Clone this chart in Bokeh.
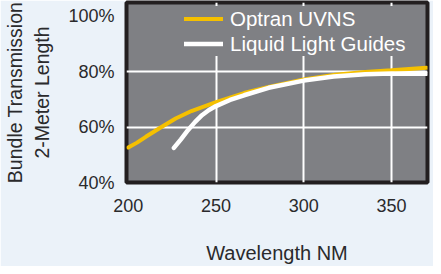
from bokeh.plotting import figure
from bokeh.models import FixedTicker, Range1d, Legend, LegendItem
from bokeh.embed import file_html
from bokeh.resources import INLINE

# Data
wl_optran = [200, 205, 210, 218, 227, 236, 250, 266, 280, 300, 318, 335, 350, 370]
tr_optran = [52.6, 54.4, 56.5, 59.7, 63.1, 65.8, 69.0, 72.3, 74.5, 77.2, 78.9, 79.9, 80.5, 81.4]

wl_llg = [226, 230, 234, 238, 242, 246, 250, 258, 266, 280, 300, 317, 335, 350, 370]
tr_llg = [52.5, 55.6, 58.9, 61.8, 64.3, 66.2, 67.6, 69.8, 71.5, 74.2, 76.8, 78.3, 79.1, 79.4, 79.3]

x_ticks = [200, 250, 300, 350]
y_ticks = [40, 60, 80, 100]
y_labels = {40: "40%", 60: "60%", 80: "80%", 100: "100%"}
x_grid = [250, 300, 350]
y_grid = [60, 80]

series_names = ["Optran UVNS", "Liquid Light Guides"]
series_colors = ["#f5c000", "#ffffff"]

FONT = "Liberation Sans"
TEXT = "#2a2a2c"
PAGE_BG = "#ebf2f9"

p = figure(width=433, height=266, output_backend="svg", toolbar_location=None,
           x_range=Range1d(199, 370.5), y_range=Range1d(40, 105),
           min_border_left=120, min_border_right=6, min_border_top=2, min_border_bottom=77)

p.background_fill_color = "#7f8084"
p.border_fill_color = PAGE_BG
p.outline_line_color = "#231f20"
p.outline_line_width = 4
p.outline_line_alpha = 1

r1 = p.line(wl_optran, tr_optran, line_color=series_colors[0], line_width=4, line_cap="round")
r2 = p.line(wl_llg, tr_llg, line_color=series_colors[1], line_width=4.5, line_cap="round")

# Axes
p.xaxis.ticker = FixedTicker(ticks=x_ticks)
p.yaxis.ticker = FixedTicker(ticks=y_ticks)
p.yaxis.major_label_overrides = y_labels
for ax in (p.xaxis[0], p.yaxis[0]):
    ax.axis_line_color = None
    ax.major_tick_line_color = None
    ax.minor_tick_line_color = None
    ax.major_label_text_font = FONT
    ax.major_label_text_font_size = "18px"
    ax.major_label_text_color = TEXT
    ax.axis_label_text_font = FONT
    ax.axis_label_text_font_style = "normal"
    ax.axis_label_text_color = TEXT

p.xaxis.major_label_standoff = 10
p.yaxis.major_label_standoff = 6
p.xaxis.axis_label = "Wavelength NM"
p.xaxis.axis_label_text_font_size = "20px"
p.xaxis.axis_label_standoff = 27
p.yaxis.axis_label = "Bundle Transmission\n2-Meter Length"
p.yaxis.axis_label_text_font_size = "19.5px"
p.yaxis.axis_label_text_line_height = 1.25
p.yaxis.axis_label_standoff = 12

# Grid
p.xgrid.ticker = FixedTicker(ticks=x_grid)
p.ygrid.ticker = FixedTicker(ticks=y_grid)
p.grid.grid_line_color = "white"
p.grid.grid_line_width = 2
p.grid.grid_line_alpha = 1

legend = Legend(items=[LegendItem(label=series_names[0], renderers=[r1]),
                       LegendItem(label=series_names[1], renderers=[r2])],
                location=(58, 126))
legend.background_fill_color = "#7f8084"
legend.background_fill_alpha = 1
legend.border_line_color = None
legend.label_text_font = FONT
legend.label_text_font_size = "20.5px"
legend.label_text_color = "white"
legend.glyph_width = 39
legend.glyph_height = 25
legend.label_height = 25
legend.label_standoff = 7
legend.padding = 5
legend.spacing = 0
legend.margin = 0
p.add_layout(legend, "center")

open("out.html", "w").write(file_html(p, INLINE))
